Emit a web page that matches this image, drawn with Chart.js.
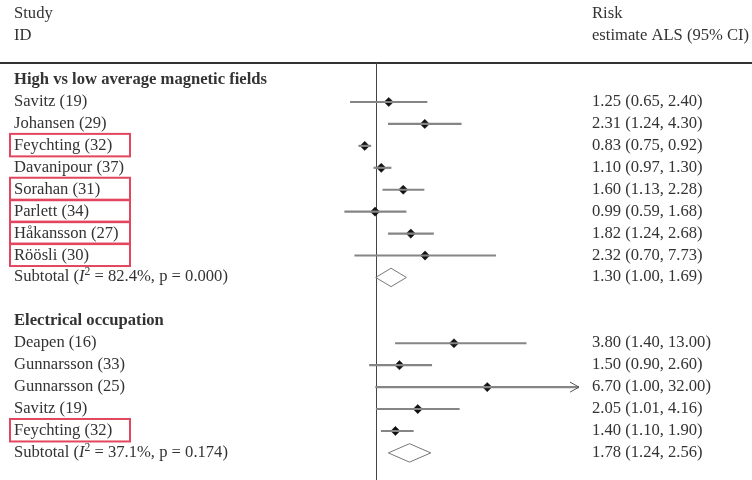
<!DOCTYPE html>
<html>
<head>
<meta charset="utf-8">
<script src="https://cdn.jsdelivr.net/npm/chart.js@4"></script>
<style>
  body { margin: 0; background: #fff; }
  canvas { display: block; }
</style>
</head>
<body>
<canvas id="forest" width="752" height="480"></canvas>
<script>
// rows are counted from the top, one per text line
const groupTitles = ["High vs low average magnetic fields", "Electrical occupation"];
const groupRows = [3, 14];

const studyLabels = ["Savitz (19)", "Johansen (29)", "Feychting (32)", "Davanipour (37)", "Sorahan (31)",
  "Parlett (34)", "Håkansson (27)", "Röösli (30)",
  "Deapen (16)", "Gunnarsson (33)", "Gunnarsson (25)", "Savitz (19)", "Feychting (32)"];
const studyRows = [4, 5, 6, 7, 8, 9, 10, 11, 15, 16, 17, 18, 19];
const estimates = [1.25, 2.31, 0.83, 1.10, 1.60, 0.99, 1.82, 2.32, 3.80, 1.50, 6.70, 2.05, 1.40];
const lowerCI = [0.65, 1.24, 0.75, 0.97, 1.13, 0.59, 1.24, 0.70, 1.40, 0.90, 1.00, 1.01, 1.10];
const upperCI = [2.40, 4.30, 0.92, 1.30, 2.28, 1.68, 2.68, 7.73, 13.00, 2.60, 32.00, 4.16, 1.90];
const boxedRows = [6, 8, 9, 10, 11, 19];

const subtotalRows = [12, 20];
const subtotalI2 = ["82.4%", "37.1%"];
const subtotalP = ["0.000", "0.174"];
const subtotalEst = [1.30, 1.78];
const subtotalLower = [1.00, 1.24];
const subtotalUpper = [1.69, 2.56];

const xMin = 0.5;
const xMax = 32;

const FONT = '"Liberation Serif", "DejaVu Serif", serif';
const TEXT = "#333";
const fmt = v => v.toFixed(2);

// diamond outline for each subtotal, closed polygon
const diamondSets = subtotalRows.map((r, i) => ({
  type: "scatter",
  data: [
    { x: subtotalLower[i], y: r },
    { x: subtotalEst[i], y: r - 0.42 },
    { x: subtotalUpper[i], y: r },
    { x: subtotalEst[i], y: r + 0.42 },
    { x: subtotalLower[i], y: r }
  ],
  showLine: true,
  borderColor: "#777",
  borderWidth: 1,
  pointRadius: 0,
  fill: false,
  tension: 0
}));

function drawRuns(ctx, runs, x, y, size) {
  let cx = x;
  runs.forEach(run => {
    let fs = size, dy = 0, style = "";
    if (run.italic) style = "italic ";
    if (run.sup) { fs = size * 0.7; dy = -size * 0.38; }
    ctx.font = style + fs + "px " + FONT;
    ctx.fillText(run.t, cx, y + dy);
    cx += ctx.measureText(run.t).width;
  });
}

const forestDecor = {
  id: "forestDecor",
  beforeDatasetsDraw(chart) {
    const { ctx, scales: { x, y } } = chart;
    const ruleY = Math.round(y.getPixelForValue(2.22));
    ctx.save();
    // header rule
    ctx.strokeStyle = "#333";
    ctx.lineWidth = 2;
    ctx.beginPath();
    ctx.moveTo(0, ruleY);
    ctx.lineTo(chart.width, ruleY);
    ctx.stroke();
    // line of no effect
    const x1 = Math.round(x.getPixelForValue(1)) + 0.5;
    ctx.lineWidth = 1;
    ctx.strokeStyle = "#444";
    ctx.beginPath();
    ctx.moveTo(x1, ruleY);
    ctx.lineTo(x1, chart.height);
    ctx.stroke();
    ctx.restore();
  },
  afterDatasetsDraw(chart) {
    const { ctx, scales: { x, y } } = chart;
    const rowY = r => y.getPixelForValue(r);
    const leftX = 14, rightX = 592, size = 16.6;
    ctx.save();
    ctx.fillStyle = TEXT;
    ctx.textBaseline = "alphabetic";
    ctx.font = size + "px " + FONT;

    ctx.fillText("Study", leftX, rowY(0) + 4);
    ctx.fillText("ID", leftX, rowY(1) + 4);
    ctx.fillText("Risk", rightX, rowY(0) + 4);
    ctx.fillText("estimate ALS (95% CI)", rightX, rowY(1) + 4);

    ctx.font = "bold " + size + "px " + FONT;
    groupTitles.forEach((t, i) => ctx.fillText(t, leftX, rowY(groupRows[i]) + 4));

    ctx.font = size + "px " + FONT;
    studyLabels.forEach((t, i) => {
      const yy = rowY(studyRows[i]) + 4;
      ctx.fillText(t, leftX, yy);
      ctx.fillText(fmt(estimates[i]) + " (" + fmt(lowerCI[i]) + ", " + fmt(upperCI[i]) + ")", rightX, yy);
    });

    subtotalRows.forEach((r, i) => {
      const yy = rowY(r) + 4;
      drawRuns(ctx, [
        { t: "Subtotal (" },
        { t: "I", italic: true },
        { t: "2", sup: true },
        { t: " = " + subtotalI2[i] + ", p = " + subtotalP[i] + ")" }
      ], leftX, yy, size);
      ctx.font = size + "px " + FONT;
      ctx.fillText(fmt(subtotalEst[i]) + " (" + fmt(subtotalLower[i]) + ", " + fmt(subtotalUpper[i]) + ")", rightX, yy);
    });

    // arrows where the interval runs off the scale
    ctx.strokeStyle = "#555";
    ctx.lineWidth = 1;
    studyRows.forEach((r, i) => {
      if (upperCI[i] < xMax) return;
      const ex = x.getPixelForValue(xMax), ey = rowY(r);
      ctx.beginPath();
      ctx.moveTo(ex - 9, ey - 5);
      ctx.lineTo(ex, ey);
      ctx.lineTo(ex - 9, ey + 5);
      ctx.stroke();
    });

    // highlight boxes
    ctx.strokeStyle = "#e2475f";
    ctx.lineWidth = 2;
    boxedRows.forEach(r => {
      ctx.strokeRect(10, rowY(r) - 12, 120, 22.5);
    });
    ctx.restore();
  }
};

new Chart(document.getElementById("forest"), {
  data: {
    datasets: [
      {
        type: "bar",
        indexAxis: "y",
        data: studyRows.map((r, i) => ({ y: r, x: [lowerCI[i], upperCI[i]] })),
        backgroundColor: "#858585",
        barThickness: 1.5,
        borderWidth: 0
      },
      {
        type: "scatter",
        data: studyRows.map((r, i) => ({ x: estimates[i], y: r })),
        pointStyle: "rectRot",
        pointRadius: 4.6,
        backgroundColor: "#111",
        borderColor: "#111",
        borderWidth: 0.5
      },
      ...diamondSets
    ]
  },
  options: {
    responsive: false,
    animation: false,
    events: [],
    layout: { autoPadding: false, padding: { left: 335, right: 173, top: 0, bottom: 0 } },
    plugins: { legend: { display: false }, tooltip: { enabled: false } },
    scales: {
      x: { type: "logarithmic", min: xMin, max: xMax, display: false, offset: false },
      y: { type: "linear", reverse: true, min: -14.3 / 21.93, max: (480 - 14.3) / 21.93, display: false, offset: false }
    }
  },
  plugins: [forestDecor]
});
</script>
</body>
</html>
